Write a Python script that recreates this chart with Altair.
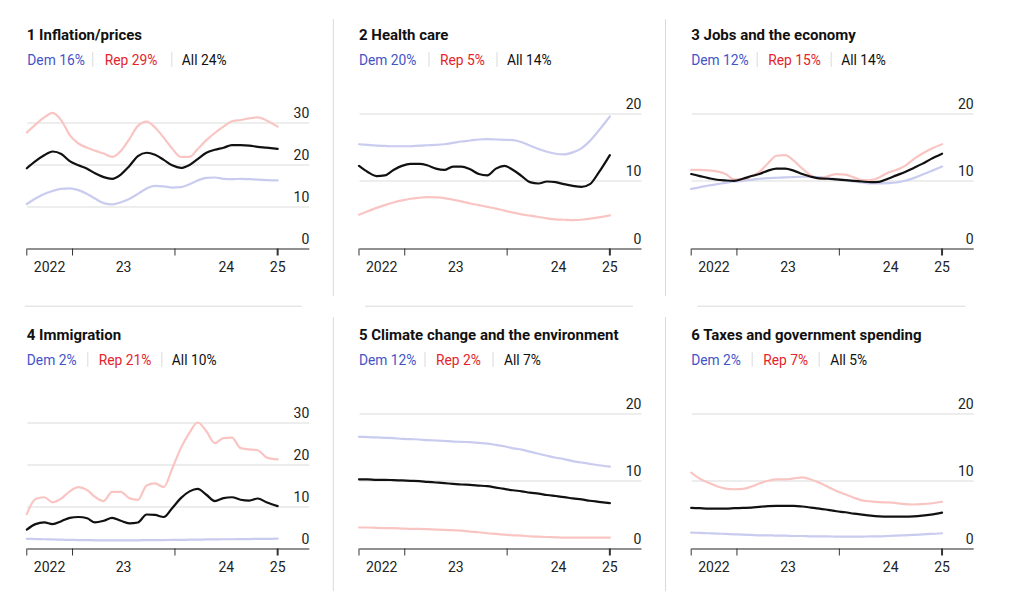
import altair as alt
import pandas as pd

DATES = [
    "2022-07-22", "2022-08-22", "2022-09-22", "2022-10-22", "2022-11-22", "2022-12-22",
    "2023-01-22", "2023-02-22", "2023-03-22", "2023-04-22", "2023-05-22", "2023-06-22",
    "2023-07-22", "2023-08-22", "2023-09-22", "2023-10-22", "2023-11-22", "2023-12-22",
    "2024-01-22", "2024-02-22", "2024-03-22", "2024-04-22", "2024-05-22", "2024-06-22",
    "2024-07-22", "2024-08-22", "2024-09-22", "2024-10-22", "2024-11-22", "2025-01-01",
]

TITLES = [
    "1 Inflation/prices",
    "2 Health care",
    "3 Jobs and the economy",
    "4 Immigration",
    "5 Climate change and the environment",
    "6 Taxes and government spending",
]
DEM_LATEST = [16, 20, 12, 2, 12, 2]
REP_LATEST = [29, 5, 15, 21, 2, 7]
ALL_LATEST = [24, 14, 14, 10, 7, 5]
Y_MAX_TICK = [30, 20, 20, 30, 20, 20]

DEM = [
    [10.6, 11.9, 13.0, 13.7, 14.2, 14.3, 13.9, 13.0, 11.9, 10.8, 10.5, 11.0, 11.8, 13.0, 14.3,
     14.9, 14.8, 14.5, 14.6, 15.3, 16.2, 16.8, 16.9, 16.6, 16.5, 16.6, 16.5, 16.4, 16.3, 16.2],
    [15.4, 15.3, 15.2, 15.15, 15.1, 15.1, 15.1, 15.2, 15.25, 15.3, 15.4, 15.6, 15.8, 15.95, 16.1,
     16.15, 16.1, 16.05, 16.0, 15.7, 15.2, 14.7, 14.3, 14.0, 13.9, 14.2, 14.8, 15.9, 17.4, 19.5],
    [8.8, 9.05, 9.3, 9.5, 9.7, 9.9, 10.0, 10.15, 10.3, 10.4, 10.45, 10.5, 10.55, 10.6, 10.6,
     10.55, 10.4, 10.25, 10.1, 9.9, 9.75, 9.6, 9.6, 9.65, 9.75, 10.0, 10.4, 10.9, 11.4, 12.1],
    [2.3, 2.25, 2.2, 2.15, 2.1, 2.05, 2.0, 2.0, 1.95, 1.95, 1.95, 1.95, 1.95, 1.95, 2.0,
     2.0, 2.0, 2.05, 2.05, 2.1, 2.1, 2.15, 2.15, 2.2, 2.2, 2.25, 2.25, 2.3, 2.3, 2.35],
    [16.5, 16.45, 16.4, 16.35, 16.3, 16.2, 16.15, 16.1, 16.0, 15.95, 15.9, 15.8, 15.75, 15.7, 15.6,
     15.5, 15.3, 15.1, 14.8, 14.6, 14.3, 14.0, 13.7, 13.4, 13.2, 12.9, 12.7, 12.5, 12.3, 12.1],
    [2.35, 2.3, 2.25, 2.2, 2.15, 2.1, 2.05, 2.0, 1.95, 1.95, 1.9, 1.9, 1.85, 1.85, 1.8,
     1.8, 1.8, 1.75, 1.75, 1.75, 1.75, 1.8, 1.8, 1.85, 1.9, 1.95, 2.0, 2.1, 2.15, 2.25],
]
REP = [
    [27.6, 29.5, 31.2, 32.3, 30.5, 27.0, 25.0, 24.0, 23.3, 22.6, 21.8, 23.2, 26.0, 29.2, 30.2,
     28.8, 26.4, 23.8, 21.8, 21.8, 23.7, 25.8, 27.5, 29.0, 30.3, 30.6, 31.0, 31.2, 30.5, 29.0],
    [5.0, 5.5, 6.0, 6.4, 6.8, 7.1, 7.35, 7.5, 7.6, 7.55, 7.45, 7.2, 6.95, 6.65, 6.4,
     6.15, 5.9, 5.6, 5.3, 5.05, 4.85, 4.65, 4.45, 4.3, 4.25, 4.2, 4.25, 4.4, 4.6, 4.9],
    [11.6, 11.6, 11.55, 11.4, 11.0, 10.2, 10.2, 10.7, 11.3, 12.6, 13.7, 13.8, 13.0, 11.8, 10.8,
     10.3, 10.7, 11.0, 10.9, 10.5, 10.1, 10.1, 10.5, 11.2, 11.6, 12.2, 13.2, 14.0, 14.7, 15.4],
    [8.2, 11.8, 12.2, 11.0, 11.9, 13.6, 14.6, 13.9, 12.3, 11.3, 13.5, 13.5, 12.0, 11.6, 15.0,
     15.5, 14.6, 19.0, 23.9, 27.6, 30.0, 27.9, 25.1, 26.3, 26.4, 23.9, 23.6, 23.4, 21.7, 21.2],
    [3.1, 3.1, 3.05, 3.0, 3.0, 2.95, 2.9, 2.9, 2.85, 2.8, 2.75, 2.7, 2.65, 2.5, 2.4,
     2.25, 2.15, 2.05, 1.95, 1.9, 1.8, 1.75, 1.7, 1.65, 1.6, 1.6, 1.6, 1.6, 1.6, 1.6],
    [11.2, 10.3, 9.7, 9.2, 8.85, 8.75, 8.8, 9.15, 9.6, 10.0, 10.2, 10.2, 10.35, 10.5, 10.2,
     9.7, 9.1, 8.5, 8.0, 7.5, 7.1, 6.95, 6.85, 6.8, 6.7, 6.55, 6.5, 6.55, 6.65, 6.9],
]
ALL = [
    [19.1, 20.8, 22.2, 23.1, 22.5, 20.8, 19.8, 19.0, 17.9, 17.0, 16.6, 17.6, 19.6, 22.0, 22.8,
     22.3, 21.1, 19.8, 19.2, 19.9, 21.3, 22.8, 23.5, 24.0, 24.6, 24.6, 24.5, 24.2, 24.0, 23.7],
    [12.2, 11.3, 10.7, 10.8, 11.6, 12.2, 12.5, 12.5, 12.3, 11.8, 11.6, 12.1, 12.1, 11.7, 11.0,
     10.8, 11.8, 12.2, 11.6, 10.7, 9.8, 9.6, 9.9, 9.8, 9.5, 9.25, 9.1, 9.5, 11.2, 13.8],
    [11.0, 10.7, 10.4, 10.15, 10.05, 10.0, 10.3, 10.7, 11.0, 11.5, 11.8, 11.8, 11.5, 11.0, 10.6,
     10.35, 10.3, 10.2, 10.1, 10.0, 9.9, 9.8, 9.85, 10.3, 10.8, 11.3, 11.9, 12.5, 13.2, 14.0],
    [4.5, 5.8, 6.2, 5.8, 6.5, 7.3, 7.5, 7.2, 6.2, 6.6, 7.3, 6.6, 6.0, 6.2, 8.1,
     8.0, 7.5, 9.6, 12.0, 13.6, 14.2, 12.8, 11.3, 12.0, 12.2, 11.6, 11.4, 11.9, 11.0, 10.1],
    [10.2, 10.2, 10.15, 10.15, 10.1, 10.05, 10.0, 9.95, 9.85, 9.75, 9.65, 9.55, 9.45, 9.4, 9.3,
     9.2, 9.0, 8.8, 8.6, 8.45, 8.25, 8.1, 7.9, 7.75, 7.6, 7.4, 7.25, 7.05, 6.9, 6.7],
    [6.0, 5.95, 5.9, 5.9, 5.9, 5.95, 6.0, 6.05, 6.15, 6.25, 6.3, 6.3, 6.3, 6.2, 6.05,
     5.9, 5.7, 5.5, 5.35, 5.15, 5.0, 4.85, 4.75, 4.7, 4.7, 4.7, 4.75, 4.85, 5.0, 5.3],
]

TICK_DATES = ["2022-07-22", "2023-01-01", "2024-01-01", "2025-01-01"]
TICK_WIDTHS = [1, 1, 1, 2]
LABEL_DATES = ["2022-10-11", "2023-07-02", "2024-07-02", "2025-01-01"]
LABEL_TEXT = ["2022", "23", "24", "25"]

# ---- styling / layout ----
W, H = 282, 150
PX_PER_UNIT = {30: 4.2, 20: 6.77}
FONT = "Roboto"
DEM_TXT, REP_TXT, ALL_TXT = "#4354c8", "#e4232a", "#111111"
DEM_LINE, REP_LINE, ALL_LINE = "#c9ccef", "#f9c5c3", "#111111"
SEP = "#dadada"
# x offsets (relative to plot left) of: Dem, bar, Rep, bar, All
SUB_X = [
    [0.5, 66, 78, 145, 155],
    [0, 70, 81, 138, 148],
    [0, 66, 77, 140, 150],
    [0, 61, 72, 135, 145],
    [0, 66, 77, 134, 145],
    [0, 61, 72, 128, 139],
]
HSEP_X = [(-2, 275), (6, 274), (6, 274)]

x_scale = alt.Scale(domain=[alt.DateTime(year=2022, month=7, date=22),
                            alt.DateTime(year=2025, month=4, date=22)])
x_axis = alt.Axis(labels=False, ticks=False, tickSize=0, grid=False, domain=True,
                  domainColor="#333", domainWidth=1, title=None)
one = alt.Data(values=[{"k": 1}])


def panel(i):
    top = Y_MAX_TICK[i]
    ymax = H / PX_PER_UNIT[top]
    y_scale = alt.Scale(domain=[0, ymax], nice=False, zero=True)
    y_axis = alt.Axis(values=list(range(0, top + 1, 10)), orient="right", grid=True,
                      gridColor="#dcdcdc", gridWidth=1, domain=False, ticks=False, tickSize=0,
                      labelAlign="right", labelBaseline="alphabetic", labelOffset=-5,
                      labelPadding=0, labelFont=FONT, labelFontSize=14, labelColor="#222",
                      title=None)

    def line(vals, color, width):
        df = pd.DataFrame({"date": DATES, "value": vals})
        return alt.Chart(df).mark_line(color=color, strokeWidth=width,
                                       interpolate="monotone", strokeCap="round").encode(
            x=alt.X("date:T", scale=x_scale, axis=x_axis),
            y=alt.Y("value:Q", scale=y_scale, axis=y_axis),
        )

    layers = [
        line(DEM[i], DEM_LINE, 2.2),
        line(REP[i], REP_LINE, 2.2),
        line(ALL[i], ALL_LINE, 2.2),
    ]
    ticks = alt.Chart(pd.DataFrame({"date": TICK_DATES, "w": TICK_WIDTHS})).mark_rule(
        color="#333").encode(
        x=alt.X("date:T", scale=x_scale, axis=x_axis),
        y=alt.value(H), y2=alt.value(H + 7),
        strokeWidth=alt.StrokeWidth("w:Q", scale=None, legend=None),
    )
    xlabels = alt.Chart(pd.DataFrame({"date": LABEL_DATES, "t": LABEL_TEXT})).mark_text(
        font=FONT, fontSize=14, color="#222", baseline="alphabetic", align="center").encode(
        x=alt.X("date:T", scale=x_scale, axis=x_axis), y=alt.value(H + 23.7), text="t:N")
    layers += [ticks, xlabels]

    def txt(s, x, y, color, size, weight="normal"):
        return alt.Chart(pd.DataFrame({"t": [s]})).mark_text(
            font=FONT, fontSize=size, fontWeight=weight, color=color, align="left",
            baseline="alphabetic").encode(x=alt.value(x), y=alt.value(y), text="t:N")

    def rule(x1, y1, x2, y2, color=SEP):
        return alt.Chart(one).mark_rule(color=color, strokeWidth=1).encode(
            x=alt.value(x1), x2=alt.value(x2), y=alt.value(y1), y2=alt.value(y2))

    sx = SUB_X[i]
    layers += [
        txt(TITLES[i], 0, -58.6, "#111", 15, "bold"),
        txt(f"Dem {DEM_LATEST[i]}%", sx[0], -33.6, DEM_TXT, 13.8),
        rule(sx[1], -46.3, sx[1], -31.6),
        txt(f"Rep {REP_LATEST[i]}%", sx[2], -33.6, REP_TXT, 13.8),
        rule(sx[3], -46.3, sx[3], -31.6),
        txt(f"All {ALL_LATEST[i]}%", sx[4], -33.6, ALL_TXT, 13.8),
    ]
    col, row = i % 3, i // 3
    if col < 2:
        if row == 0:
            layers.append(rule(306.5, -79.3, 306.5, 197.7))
        else:
            layers.append(rule(306.5, -81.3, 306.5, 192.7))
    if row == 0:
        a, b = HSEP_X[col]
        layers.append(rule(a, 207.7, b, 207.7))
    return alt.layer(*layers).properties(width=W, height=H)


chart = alt.concat(*[panel(i) for i in range(6)], columns=3,
                   spacing=alt.RowColnumber(row=150, column=50.2), bounds="flush").properties(
    padding={"left": 13.8, "top": 10.5, "right": 5, "bottom": 5},
    background="white",
).configure(font=FONT).configure_view(strokeWidth=0, stroke="transparent")

chart.save("out.html", embed_options={"renderer": "svg", "actions": False})
